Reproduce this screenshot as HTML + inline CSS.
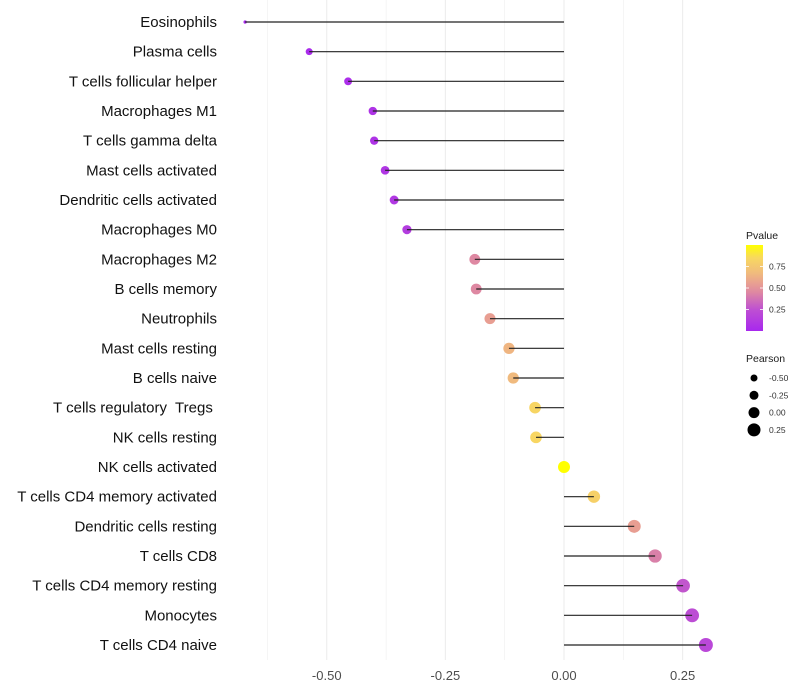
<!DOCTYPE html>
<html><head><meta charset="utf-8"><style>
body{margin:0;background:#fff;font-family:"Liberation Sans",sans-serif}
svg{display:block}
text{white-space:pre}
</style></head><body>
<svg id="chart" width="800" height="700"></svg>
<script>
const categories=["Eosinophils","Plasma cells","T cells follicular helper","Macrophages M1","T cells gamma delta","Mast cells activated","Dendritic cells activated","Macrophages M0","Macrophages M2","B cells memory","Neutrophils","Mast cells resting","B cells naive","T cells regulatory  Tregs ","NK cells resting","NK cells activated","T cells CD4 memory activated","Dendritic cells resting","T cells CD8","T cells CD4 memory resting","Monocytes","T cells CD4 naive"];
const pearson=[-0.672,-0.537,-0.455,-0.403,-0.40,-0.377,-0.358,-0.331,-0.188,-0.185,-0.156,-0.116,-0.107,-0.061,-0.059,0.0,0.063,0.148,0.192,0.251,0.27,0.299];
const pvalue=[0.001,0.02,0.04,0.07,0.07,0.09,0.1,0.13,0.45,0.45,0.55,0.65,0.67,0.83,0.84,1.0,0.8,0.55,0.42,0.27,0.23,0.2];
const xTicks=[-0.5,-0.25,0,0.25];
const xTickLabels=["-0.50","-0.25","0.00","0.25"];
const legendP=[0.75,0.5,0.25];
const legendPLabels=["0.75","0.50","0.25"];
const legendS=[-0.5,-0.25,0,0.25];
const legendSLabels=["-0.50","-0.25","0.00","0.25"];

const NS="http://www.w3.org/2000/svg";
const svg=document.getElementById('chart');
function mk(t,a,p){const e=document.createElementNS(NS,t);for(const k in a)e.setAttribute(k,a[k]);(p||svg).appendChild(e);return e;}
const x0=564,kx=474.5;
const X=v=>x0+v*kx;
const Y=i=>22+i*(623/(categories.length-1));
const rStops=[[-0.7,1.3],[-0.537,3.5],[-0.4,4.2],[-0.19,5.4],[0,6],[0.3,7]];
function R(v){
  for(let i=1;i<rStops.length;i++){if(v<=rStops[i][0]||i==rStops.length-1){const a=rStops[i-1],b=rStops[i];const t=Math.max(0,Math.min(1,(v-a[0])/(b[0]-a[0])));return a[1]+(b[1]-a[1])*t;}}
}
const cStops=[[0,[168,40,238]],[0.25,[190,80,210]],[0.45,[222,136,162]],[0.55,[232,158,146]],[0.67,[240,186,126]],[0.85,[248,216,96]],[1,[255,255,0]]];
function col(p){
  for(let i=1;i<cStops.length;i++){if(p<=cStops[i][0]||i==cStops.length-1){const a=cStops[i-1],b=cStops[i];const t=Math.max(0,Math.min(1,(p-a[0])/(b[0]-a[0])));return 'rgb('+a[1].map((v,j)=>Math.round(v+(b[1][j]-v)*t))+')';}}
}
// grid
for(let k=-5;k<=2;k++){
  const v=k*0.125;
  const g=mk('line',{x1:X(v),x2:X(v),y1:0,y2:660,stroke:'#ebebeb','stroke-width':k%2===0?1:0.5});
  
  
}
xTicks.forEach((v,i)=>{
  const t=mk('text',{x:X(v),y:680,'text-anchor':'middle','font-size':13,fill:'#4d4d4d'});
  t.textContent=xTickLabels[i];
  
  
});
categories.forEach((c,i)=>{
  const y=Y(i);
  const t=mk('text',{x:217,y:y+5,'text-anchor':'end','font-size':15,fill:'#111'});
  t.textContent=c;
  
  
  const p=mk('circle',{cx:X(pearson[i]),cy:y,r:R(pearson[i]),fill:col(pvalue[i])});
  
  
  const l=mk('line',{x1:X(0),x2:X(pearson[i]),y1:y,y2:y,stroke:'#222','stroke-width':1.2});
  
  
});
// color legend
const defs=mk('defs',{});
const lg=mk('linearGradient',{id:'pg',x1:0,y1:1,x2:0,y2:0},defs);
cStops.forEach(s=>mk('stop',{offset:s[0],'stop-color':col(s[0])},lg));
const lt=mk('text',{x:746,y:239,'font-size':10.5,fill:'#1a1a1a'});lt.textContent='Pvalue';


const cb=mk('rect',{x:746,y:245,width:17,height:86,fill:'url(#pg)'});


legendP.forEach((p,i)=>{
  const y=331-p*86;
  mk('line',{x1:746,x2:749,y1:y,y2:y,stroke:'#fff','stroke-width':0.8});
  mk('line',{x1:760,x2:763,y1:y,y2:y,stroke:'#fff','stroke-width':0.8});
  const t=mk('text',{x:769,y:y+3,'font-size':8.5,fill:'#333'});t.textContent=legendPLabels[i];
  
  
});
const st=mk('text',{x:746,y:362,'font-size':10.5,fill:'#1a1a1a'});st.textContent='Pearson';


legendS.forEach((v,i)=>{
  const y=378+i*17.3;
  const c=mk('circle',{cx:754,cy:y,r:[3.5,4.5,5.5,6.5][i],fill:'#000'});
  
  
  const t=mk('text',{x:769,y:y+3,'font-size':8.5,fill:'#333'});t.textContent=legendSLabels[i];
  
  
});
</script>
</body></html>
